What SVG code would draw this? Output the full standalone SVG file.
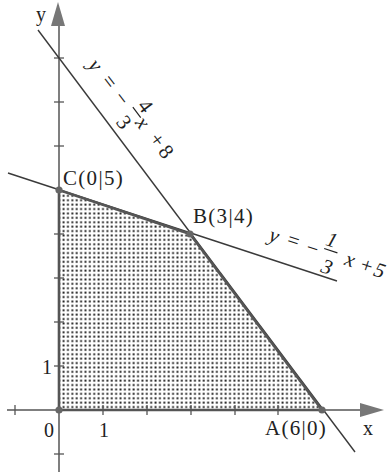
<svg xmlns="http://www.w3.org/2000/svg" width="390" height="474" viewBox="0 0 390 474">
<style>
.t{font-family:"Liberation Serif","Times New Roman",serif;fill:#222}
.lbl{font-size:21px;letter-spacing:1.3px}
.ax{font-size:20px}
.eq{font-size:21px}
.it{font-style:italic}
.axis{stroke:#555;stroke-width:1.5;fill:none}
.tick{stroke:#555;stroke-width:1.3}
.thin{stroke:#3a3a3a;stroke-width:1.4;fill:none}
.edge{stroke:#555;stroke-width:2.6;fill:none;stroke-linejoin:round}
.dot{fill:#666}
.head{fill:#777}
.bar{stroke:#222;stroke-width:1.2}
</style>
<defs>
<pattern id="dots" x="0" y="0" width="4.38" height="4.4" patternUnits="userSpaceOnUse">
<rect x="1.3" y="1.3" width="1.9" height="1.9" fill="#1a1a1a"/>
</pattern>
</defs>
<rect width="390" height="474" fill="#fff"/>

<g id="region">
<polygon points="59,410 59,190 190,234 322,410" fill="url(#dots)"/>
</g>

<g id="axes">
<line class="axis" x1="7" y1="410" x2="362" y2="410"/>
<polygon class="head" points="384,410 360,403 360,417"/>
<line class="axis" x1="59" y1="472" x2="59" y2="24"/>
<polygon class="head" points="58,2 51,26 65,26"/>
<g id="ticks">
<line class="tick" x1="15" y1="405" x2="15" y2="415"/>
<line class="tick" x1="103" y1="405" x2="103" y2="415"/>
<line class="tick" x1="147" y1="405" x2="147" y2="415"/>
<line class="tick" x1="191" y1="405" x2="191" y2="415"/>
<line class="tick" x1="235" y1="405" x2="235" y2="415"/>
<line class="tick" x1="278" y1="405" x2="278" y2="415"/>
<line class="tick" x1="54" y1="58" x2="64" y2="58"/>
<line class="tick" x1="54" y1="102" x2="64" y2="102"/>
<line class="tick" x1="54" y1="146" x2="64" y2="146"/>
<line class="tick" x1="54" y1="234" x2="64" y2="234"/>
<line class="tick" x1="54" y1="278" x2="64" y2="278"/>
<line class="tick" x1="54" y1="322" x2="64" y2="322"/>
<line class="tick" x1="54" y1="366" x2="64" y2="366"/>
<line class="tick" x1="54" y1="454" x2="64" y2="454"/>
</g>
<text class="t ax" x="36" y="21">y</text>
<text class="t ax" x="363" y="435">x</text>
<text class="t ax" x="44" y="437">0</text>
<text class="t ax" x="99" y="437">1</text>
<text class="t ax" x="42" y="374">1</text>
</g>

<g id="connectors">
<line id="line1" class="thin" x1="38" y1="30" x2="355" y2="452"/>
<line id="line2" class="thin" x1="8" y1="173" x2="337" y2="281"/>
<polyline id="boundary" class="edge" points="59,410 59,190 190,234 322,410 59,410"/>
</g>

<g id="eq1" transform="translate(59,58) rotate(52.5)">
<text class="t eq it" x="27.8" y="-18" text-anchor="middle">y</text>
<text class="t eq" x="49.4" y="-18.9" text-anchor="middle">=</text>
<text class="t eq" x="70.1" y="-18.5" text-anchor="middle">−</text>
<text class="t eq" x="90.7" y="-32.6" text-anchor="middle">4</text>
<line class="bar" x1="84" y1="-28.6" x2="97" y2="-28.6"/>
<text class="t eq" x="90.4" y="-5.5" text-anchor="middle">3</text>
<text class="t eq it" x="102.2" y="-20.2" text-anchor="middle">x</text>
<text class="t eq" x="124.8" y="-21.4" text-anchor="middle">+</text>
<text class="t eq" x="139.6" y="-21.1" text-anchor="middle">8</text>
</g>

<g id="eq2" transform="translate(59,190) rotate(18.5)">
<text class="t eq it" x="218.8" y="-18.3" text-anchor="middle">y</text>
<text class="t eq" x="238.4" y="-19.8" text-anchor="middle">=</text>
<text class="t eq" x="258.9" y="-18.3" text-anchor="middle">−</text>
<text class="t eq it" x="274.7" y="-32.5" text-anchor="middle">1</text>
<line class="bar" x1="270" y1="-28.7" x2="284" y2="-28.7"/>
<text class="t eq it" x="278.5" y="-5.3" text-anchor="middle">3</text>
<text class="t eq it" x="298" y="-19.7" text-anchor="middle">x</text>
<text class="t eq" x="316" y="-19.1" text-anchor="middle">+</text>
<text class="t eq it" x="329.5" y="-18.6" text-anchor="middle">5</text>
</g>

<g id="O"><circle class="dot" cx="59" cy="410" r="3.6"/></g>
<g id="A"><circle class="dot" cx="322" cy="410" r="3.6"/><text class="t lbl" x="265" y="435">A(6|0)</text></g>
<g id="B"><circle class="dot" cx="190" cy="234" r="3.6"/><text class="t lbl" x="193" y="223">B(3|4)</text></g>
<g id="C"><circle class="dot" cx="59" cy="190" r="3.6"/><text class="t lbl" x="63" y="185">C(0|5)</text></g>
</svg>
